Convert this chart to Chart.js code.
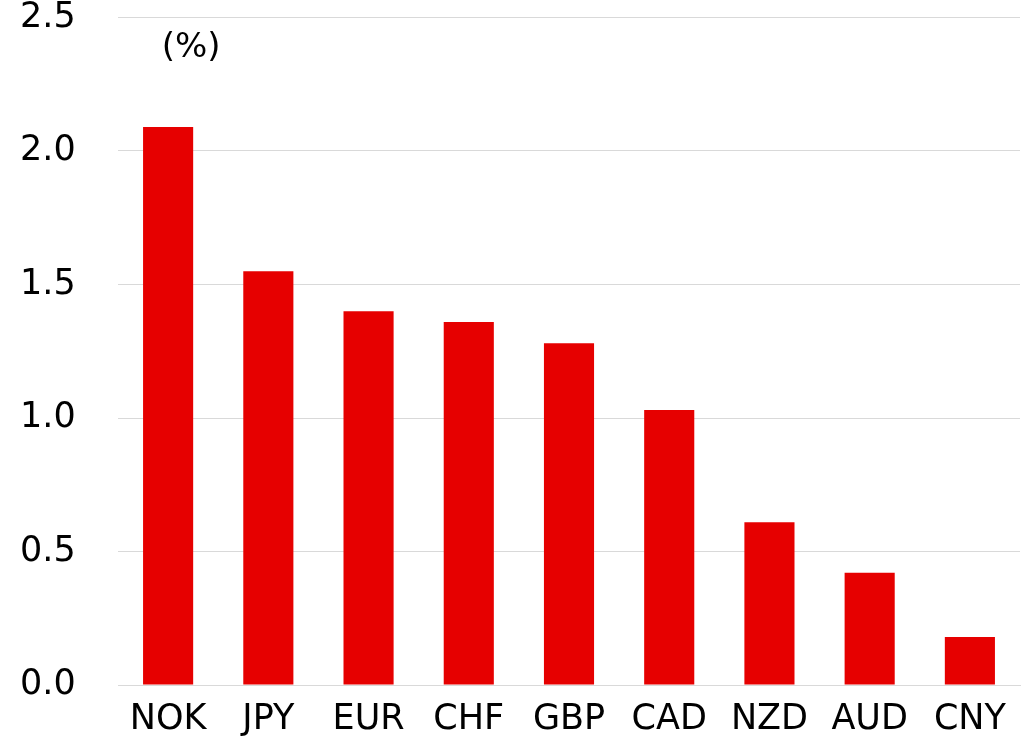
<!DOCTYPE html>
<html>
<head>
<meta charset="utf-8">
<script src="https://cdn.jsdelivr.net/npm/chart.js@4/dist/chart.umd.min.js"></script>
<style>
  html, body { margin: 0; padding: 0; background: #fff; }
  #wrap { width: 1022px; height: 749px; position: relative; }
</style>
</head>
<body>
<div id="wrap"><canvas id="chart"></canvas></div>
<script>
const currencies = ['NOK', 'JPY', 'EUR', 'CHF', 'GBP', 'CAD', 'NZD', 'AUD', 'CNY'];
const values = [2.09, 1.55, 1.40, 1.36, 1.28, 1.03, 0.61, 0.42, 0.18];
const yTicks = [0, 0.5, 1.0, 1.5, 2.0, 2.5];
const unitLabel = '(%)';

const fontFamily = '"DejaVu Sans", sans-serif';

// unit label above the first bar
const unitPlugin = {
    id: 'unitLabel',
    afterDraw(chart) {
        const ctx = chart.ctx;
        const x = chart.scales.x.getPixelForValue(0) + 23;
        ctx.save();
        ctx.font = '34px ' + fontFamily;
        ctx.fillStyle = '#000';
        ctx.textAlign = 'center';
        ctx.textBaseline = 'middle';
        ctx.fillText(unitLabel, x, 48);
        ctx.restore();
    }
};

new Chart(document.getElementById('chart'), {
    type: 'bar',
    data: {
        labels: currencies,
        datasets: [{
            data: values,
            backgroundColor: '#e60000',
            barPercentage: 0.5,
            categoryPercentage: 1.0
        }]
    },
    options: {
        responsive: true,
        maintainAspectRatio: false,
        animation: false,
        layout: { padding: { top: 0, right: 2, left: 20, bottom: 2 } },
        plugins: { legend: { display: false }, tooltip: { enabled: false } },
        scales: {
            x: {
                grid: { display: false },
                border: { display: true, color: '#d9d9d9', width: 1 },
                ticks: { color: '#000', font: { family: fontFamily, size: 35 }, padding: 6, maxRotation: 0 }
            },
            y: {
                min: 0,
                max: 2.5,
                afterBuildTicks(scale) { scale.ticks = yTicks.map(v => ({ value: v })); },
                afterFit(scale) { scale.width = 98; },
                grid: { color: '#d9d9d9', drawTicks: false },
                border: { display: false },
                ticks: {
                    color: '#000',
                    font: { family: fontFamily, size: 35, lineHeight: 1 },
                    padding: 0,
                    crossAlign: 'far',
                    callback: v => v.toFixed(1)
                }
            }
        }
    },
    plugins: [unitPlugin]
});
</script>
</body>
</html>
